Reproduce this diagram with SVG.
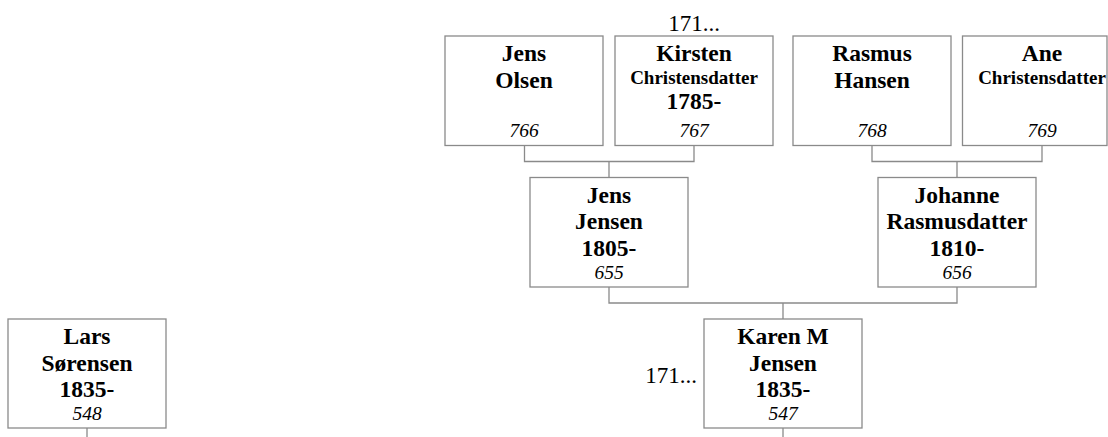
<svg xmlns="http://www.w3.org/2000/svg" width="1108" height="437" viewBox="0 0 1108 437">
<style>
.box{fill:#fff;stroke:#8a8a8a;stroke-width:1.3}
.ln{fill:none;stroke:#8a8a8a;stroke-width:1.3}
text{font-family:"Liberation Serif","Times New Roman",serif;fill:#000;text-anchor:middle}
.n{font-size:23.5px;font-weight:bold}
.s{font-size:19px;font-weight:bold}
.id{font-size:19.5px;font-style:italic}
.m{font-size:23px}
</style>
<rect width="1108" height="437" fill="#fff"/>
<g id="connectors">
<path class="ln" d="M524.5 145.5V161.5H694V145.5M609 161.5V177.5"/>
<path class="ln" d="M872 145.5V161.5H1042V145.5M957 161.5V177.5"/>
<path class="ln" d="M609 287V303H957V287M783 303V319"/>
<path class="ln" d="M783 428V437"/>
<path class="ln" d="M87 428V437"/>
</g>
<g id="n766">
<rect class="box" x="445" y="36" width="158" height="109.5"/>
<text class="n" x="524" y="61">Jens</text>
<text class="n" x="524" y="87.5">Olsen</text>
<text class="id" x="524" y="137">766</text>
</g>
<g id="n767">
<text class="m" x="694" y="31">171...</text>
<rect class="box" x="615" y="36" width="158" height="109.5"/>
<text class="n" x="694" y="61">Kirsten</text>
<text class="s" x="694" y="83.5">Christensdatter</text>
<text class="n" x="694" y="108.5">1785-</text>
<text class="id" x="694" y="137">767</text>
</g>
<g id="n768">
<rect class="box" x="793" y="36" width="158" height="109.5"/>
<text class="n" x="872" y="61">Rasmus</text>
<text class="n" x="872" y="87.5">Hansen</text>
<text class="id" x="872" y="137">768</text>
</g>
<g id="n769">
<rect class="box" x="962.5" y="36" width="144.5" height="109.5"/>
<text class="n" x="1042" y="61">Ane</text>
<text class="s" x="1042" y="83.5">Christensdatter</text>
<text class="id" x="1042" y="137">769</text>
</g>
<g id="n655">
<rect class="box" x="530" y="177.5" width="158" height="109.5"/>
<text class="n" x="609" y="202.5">Jens</text>
<text class="n" x="609" y="229">Jensen</text>
<text class="n" x="609" y="255.5">1805-</text>
<text class="id" x="609" y="278.5">655</text>
</g>
<g id="n656">
<rect class="box" x="878" y="177.5" width="158" height="109.5"/>
<text class="n" x="957" y="202.5">Johanne</text>
<text class="n" x="957" y="229">Rasmusdatter</text>
<text class="n" x="957" y="255.5">1810-</text>
<text class="id" x="957" y="278.5">656</text>
</g>
<g id="n547">
<text class="m" x="697" y="383" style="text-anchor:end">171...</text>
<rect class="box" x="704" y="319" width="158" height="109"/>
<text class="n" x="783" y="344">Karen M</text>
<text class="n" x="783" y="370.5">Jensen</text>
<text class="n" x="783" y="397">1835-</text>
<text class="id" x="783" y="420">547</text>
</g>
<g id="n548">
<rect class="box" x="8" y="319" width="158" height="109"/>
<text class="n" x="87" y="344">Lars</text>
<text class="n" x="87" y="370.5">Sørensen</text>
<text class="n" x="87" y="397">1835-</text>
<text class="id" x="87" y="420">548</text>
</g>
</svg>
